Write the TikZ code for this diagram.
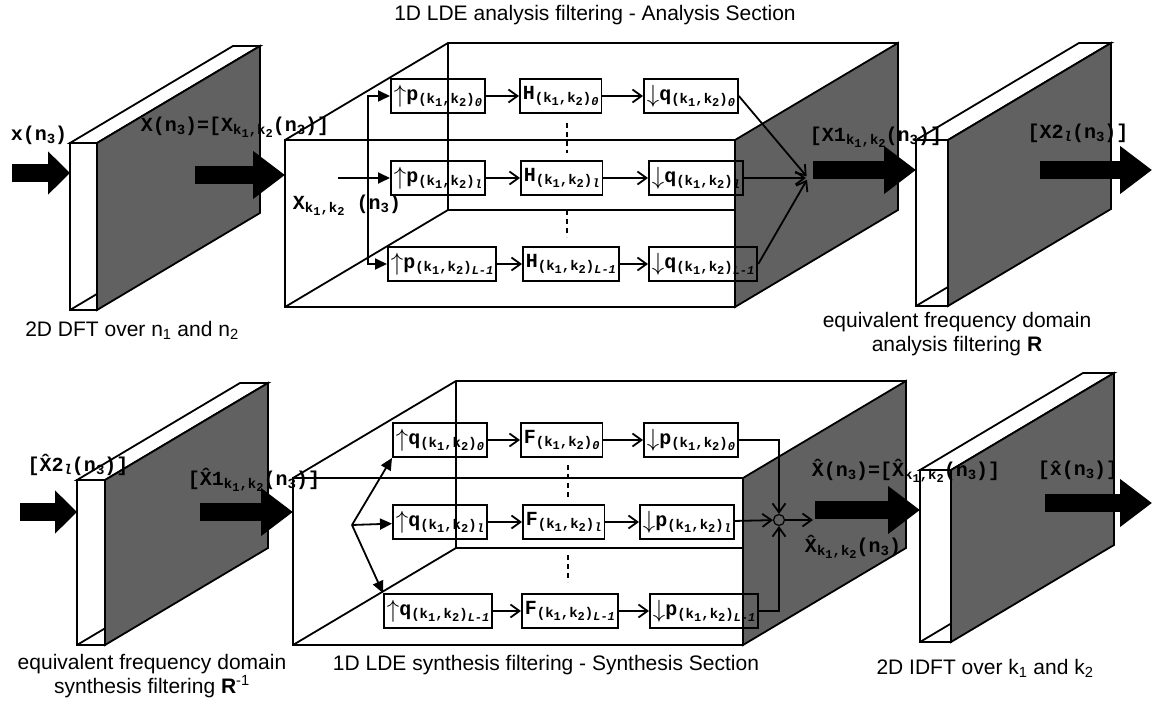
\documentclass[tikz,border=0pt]{standalone}
\usepackage{fontspec}
\setmainfont{Liberation Sans}
\newfontfamily\cour{Liberation Mono}
\usetikzlibrary{arrows.meta}

\colorlet{scanGray}{black!62}
% lowered indices in the Courier labels
\newcommand{\sbs}[1]{\raisebox{-0.35ex}{\fontsize{14}{14}\selectfont#1}}
\newcommand{\ssb}[1]{\raisebox{-0.35ex}{\fontsize{12}{12}\selectfont#1}}
\newcommand{\kk}{(k\ssb{1},k\ssb{2})}
\newcommand{\upa}{\raisebox{-2pt}{\fontsize{24}{24}\selectfont$\uparrow$}}
\newcommand{\dna}{\raisebox{-2pt}{\fontsize{24}{24}\selectfont$\downarrow$}}
% thin transform slab: left x, top y, thickness, height
\newcommand{\slab}[4]{%
  \filldraw[fill=white] (#1,#2) -- ++(163,-97) -- ++(#3,0) -- (#1+#3,#2) -- cycle;
  \filldraw[fill=white] (#1,#2) rectangle ++(#3,#4);
  \filldraw[fill=scanGray] (#1+#3,#2) -- ++(163,-97) -- ++(0,#4) -- (#1+#3,#2+#4) -- cycle;
  \draw (#1,#2+#4) -- ++(#3,-#3*97/163);
}
% see-through filter bank box: left x, top y
\newcommand{\stagebox}[2]{%
  \filldraw[fill=scanGray] (#1+450,#2) -- ++(163,-97) -- ++(0,167) -- (#1+450,#2+167) -- cycle;
  \draw (#1,#2) rectangle ++(450,167);
  \draw (#1,#2) -- ++(163,-97) -- ++(450,0);
  \draw (#1,#2+167) -- ++(163,-97) -- ++(287,0);
  \draw (#1+163,#2-97) -- ++(0,167);
}

\begin{document}
\begin{tikzpicture}[x=1pt, y=-1pt, line width=1.8pt,
  filt/.style={draw, anchor=west, minimum height=34pt, inner xsep=3pt, inner ysep=0pt,
    font=\cour\bfseries\fontsize{20}{22}\selectfont},
  lbl/.style={inner sep=0pt, font=\cour\bfseries\fontsize{20}{22}\selectfont},
  captxt/.style={inner sep=0pt, align=center, font=\fontsize{21}{24}\selectfont},
  sig/.style={-{Straight Barb[length=9pt,width=13pt]}},
  feed/.style={-{Triangle[length=12pt,width=11pt]}},
  fat/.style={line width=18pt, -{Triangle[length=32pt,width=46pt]}},
  inarrow/.style={line width=18pt, -{Triangle[length=22pt,width=42pt]}},
  vdots/.style={line width=2.6pt, dash pattern=on 5pt off 4pt}]
\useasboundingbox (0,0) rectangle (1152,708);

% ---------- analysis (top row)
\slab{70}{143}{27}{167}
\stagebox{285}{140}
\slab{916}{140}{32}{166}

\node[filt] (pa0) at (390,96) {\upa p\sbs{\kk\ssb{\itshape 0}}};
\node[filt] (ha0) at (519,96) {H\sbs{\kk\ssb{\itshape 0}}};
\node[filt] (qa0) at (643,96) {\dna q\sbs{\kk\ssb{\itshape 0}}};
\node[filt] (pal) at (390,178) {\upa p\sbs{\kk\ssb{\itshape l}}};
\node[filt] (hal) at (520,178) {H\sbs{\kk\ssb{\itshape l}}};
\node[filt] (qal) at (648,178) {\dna q\sbs{\kk\ssb{\itshape l}}};
\node[filt] (paL) at (387,264) {\upa p\sbs{\kk\ssb{\itshape L-1}}};
\node[filt] (haL) at (522,264) {H\sbs{\kk\ssb{\itshape L-1}}};
\node[filt] (qaL) at (648,264) {\dna q\sbs{\kk\ssb{\itshape L-1}}};

\draw[sig] (pa0) -- (ha0);
\draw[sig] (ha0) -- (qa0);
\draw[sig] (pal) -- (hal);
\draw[sig] (hal) -- (qal);
\draw[sig] (paL) -- (haL);
\draw[sig] (haL) -- (qaL);
\draw[vdots] (567,123) -- (567,153);
\draw[vdots] (567,210) -- (567,237);

% split of the input row
\coordinate (xa) at (338,178);
\coordinate (splitA) at (368,178);
\draw (xa) -- (splitA);
\draw[feed] (splitA) |- (pa0);
\draw[feed] (splitA) -- (pal);
\draw[feed] (splitA) |- (paL);

% merge at the output
\coordinate (sumA) at (808,178);
\draw[sig, shorten >=2pt] (qa0.east) -- (sumA);
\draw[sig, shorten >=2pt] (qal) -- (sumA);
\draw[sig, shorten >=2pt] (qaL.east) -- (sumA);

% big arrows
\coordinate (inA) at (12,173);
\coordinate (inA2) at (70,173);
\coordinate (dftA) at (195,175);
\coordinate (boxA) at (285,175);
\coordinate (resA) at (813,170);
\coordinate (slabR) at (916,170);
\coordinate (outR) at (1040,170);
\coordinate (endR) at (1152,170);
\draw[inarrow] (inA) -- (inA2);
\draw[fat] (dftA) -- (boxA);
\draw[fat] (resA) -- (slabR);
\draw[fat] (outR) -- (endR);

\node[lbl] (xn) at (39,135) {x(n\sbs{3})};
\node[lbl] (xvec) at (235,127) {X(n\sbs{3})=[X\sbs{k\ssb{1},k\ssb{2}}(n\sbs{3})]};
\node[lbl] (xkk) at (347,205) {X\sbs{k\ssb{1},k\ssb{2}} (n\sbs{3})};
\node[lbl] (x1) at (876,137) {[X1\sbs{k\ssb{1},k\ssb{2}}(n\sbs{3})]};
\node[lbl] (x2) at (1078,133) {[X2\sbs{\itshape l}(n\sbs{3})]};

\node[captxt] (ttlA) at (595,15) {1D LDE analysis filtering - Analysis Section};
\node[captxt] (capDFT) at (132,330) {2D DFT over n\textsubscript{1} and n\textsubscript{2}};
\node[captxt] (capR) at (957,334) {equivalent frequency domain\\analysis filtering \textbf{R}};

% ---------- synthesis (bottom row)
\slab{77}{480}{28}{165}
\stagebox{293}{478}
\slab{920}{470}{31}{172}

\node[filt] (qs0) at (392,440) {\upa q\sbs{\kk\ssb{\itshape 0}}};
\node[filt] (fs0) at (520,440) {F\sbs{\kk\ssb{\itshape 0}}};
\node[filt] (ps0) at (643,440) {\dna p\sbs{\kk\ssb{\itshape 0}}};
\node[filt] (qsl) at (392,522) {\upa q\sbs{\kk\ssb{\itshape l}}};
\node[filt] (fsl) at (522,522) {F\sbs{\kk\ssb{\itshape l}}};
\node[filt] (psl) at (639,522) {\dna p\sbs{\kk\ssb{\itshape l}}};
\node[filt] (qsL) at (383,611) {\upa q\sbs{\kk\ssb{\itshape L-1}}};
\node[filt] (fsL) at (521,611) {F\sbs{\kk\ssb{\itshape L-1}}};
\node[filt] (psL) at (649,611) {\dna p\sbs{\kk\ssb{\itshape L-1}}};

\draw[sig] (qs0) -- (fs0);
\draw[sig] (fs0) -- (ps0);
\draw[sig] (qsl) -- (fsl);
\draw[sig] (fsl) -- (psl);
\draw[sig] (qsL) -- (fsL);
\draw[sig] (fsL) -- (psL);
\draw[vdots] (568,465) -- (568,497);
\draw[vdots] (568,555) -- (568,582);

% fan-out of the input row
\coordinate (fan) at (352,525);
\draw[feed] (fan) -- (qs0.south west);
\draw[feed] (fan) -- (qsl);
\draw[feed] (fan) -- (qsL.north west);

% adder
\node[circle, draw, line width=1.2pt, minimum size=11pt, inner sep=0pt] (sumS) at (779,520) {};
\draw[sig] (ps0.east) -| (sumS);
\draw[sig] (psl) -- (sumS);
\draw[sig] (psL.east) -| (sumS);
\coordinate (sumOut) at (813,520);
\draw[sig] (sumS) -- (sumOut);

\coordinate (inS) at (20,512);
\coordinate (inS2) at (77,512);
\coordinate (invS) at (200,512);
\coordinate (boxS) at (293,512);
\coordinate (resS) at (815,510);
\coordinate (slabS) at (920,510);
\coordinate (outS) at (1045,503);
\coordinate (endS) at (1152,503);
\draw[inarrow] (inS) -- (inS2);
\draw[fat] (invS) -- (boxS);
\draw[fat] (resS) -- (slabS);
\draw[fat] (outS) -- (endS);

\node[lbl] (xh2) at (78,465) {[\^{X}2\sbs{\itshape l}(n\sbs{3})]};
\node[lbl] (xh1) at (254,480) {[\^{X}1\sbs{k\ssb{1},k\ssb{2}}(n\sbs{3})]};
\node[lbl] (xhvec) at (906,471) {\^{X}(n\sbs{3})=[\^{X}\sbs{k\ssb{1},k\ssb{2}}(n\sbs{3})]};
\node[lbl] (xhout) at (1078,470) {[\^{x}(n\sbs{3})]};
\node[lbl] (xhkk) at (853,547) {\^{X}\sbs{k\ssb{1},k\ssb{2}}(n\sbs{3})};

\node[captxt] (capRinv) at (152,676) {equivalent frequency domain\\synthesis filtering \textbf{R}\textsuperscript{-1}};
\node[captxt] (ttlS) at (546,665) {1D LDE synthesis filtering - Synthesis Section};
\node[captxt] (capIDFT) at (985,668) {2D IDFT over k\textsubscript{1} and k\textsubscript{2}};
\end{tikzpicture}
\end{document}
